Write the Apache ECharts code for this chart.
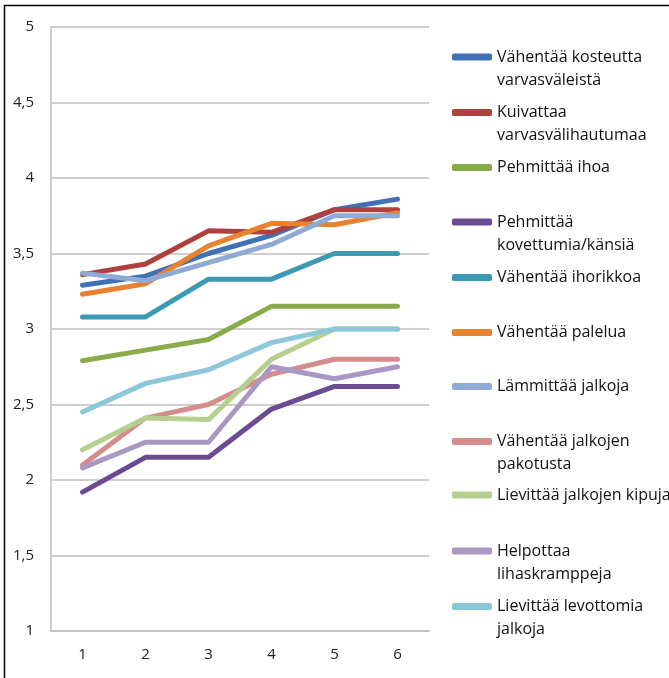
<!DOCTYPE html>
<html>
<head>
<meta charset="utf-8">
<script src="https://cdn.jsdelivr.net/npm/echarts@6/dist/echarts.min.js"></script>
<style>
html,body{margin:0;padding:0;background:#fff;}
#chart{width:669px;height:678px;}
</style>
</head>
<body>
<div id="chart"></div>
<script>
var categories = ['1', '2', '3', '4', '5', '6'];
var seriesNames = [
  'Vähentää kosteutta varvasväleistä',
  'Kuivattaa varvasvälihautumaa',
  'Pehmittää ihoa',
  'Pehmittää kovettumia/känsiä',
  'Vähentää ihorikkoa',
  'Vähentää palelua',
  'Lämmittää jalkoja',
  'Vähentää jalkojen pakotusta',
  'Lievittää jalkojen kipuja',
  'Helpottaa lihaskramppeja',
  'Lievittää levottomia jalkoja'
];
var legendLabels = [
  'Vähentää kosteutta\nvarvasväleistä',
  'Kuivattaa\nvarvasvälihautumaa',
  'Pehmittää ihoa',
  'Pehmittää\nkovettumia/känsiä',
  'Vähentää ihorikkoa',
  'Vähentää palelua',
  'Lämmittää jalkoja',
  'Vähentää jalkojen\npakotusta',
  'Lievittää jalkojen kipuja',
  'Helpottaa\nlihaskramppeja',
  'Lievittää levottomia\njalkoja'
];
var vKosteus = [3.29, 3.35, 3.50, 3.62, 3.79, 3.86];
var vKuivattaa = [3.36, 3.43, 3.65, 3.64, 3.79, 3.79];
var vIhoa = [2.79, 2.86, 2.93, 3.15, 3.15, 3.15];
var vKovettumia = [1.92, 2.15, 2.15, 2.47, 2.62, 2.62];
var vIhorikkoa = [3.08, 3.08, 3.33, 3.33, 3.50, 3.50];
var vPalelua = [3.23, 3.30, 3.55, 3.70, 3.69, 3.77];
var vLammittaa = [3.37, 3.32, 3.44, 3.56, 3.75, 3.75];
var vPakotusta = [2.10, 2.41, 2.50, 2.70, 2.80, 2.80];
var vKipuja = [2.20, 2.41, 2.40, 2.80, 3.00, 3.00];
var vKramppeja = [2.08, 2.25, 2.25, 2.75, 2.67, 2.75];
var vLevottomia = [2.45, 2.64, 2.73, 2.91, 3.00, 3.00];
var yTicks = [1, 1.5, 2, 2.5, 3, 3.5, 4, 4.5, 5];

var allValues = [vKosteus, vKuivattaa, vIhoa, vKovettumia, vIhorikkoa, vPalelua,
  vLammittaa, vPakotusta, vKipuja, vKramppeja, vLevottomia];
var colors = ['#4070B5', '#B0403D', '#8AAB4B', '#6B4C92', '#3C9BB3', '#E8822F',
  '#8FAAD5', '#D48D8C', '#B5CF90', '#A898C2', '#8CC8DA'];
var legendCenters = [57, 112.5, 167.5, 222, 277.5, 332.5, 386.5, 441.5, 495, 551, 606.5];
var LH = 23;
var FONT = 'Open Sans';

var series = seriesNames.map(function (n, i) {
  return {
    name: n, type: 'line', data: allValues[i], showSymbol: false, symbol: 'none',
    lineStyle: { width: 5, color: colors[i], cap: 'round', join: 'round' },
    itemStyle: { color: colors[i] }, animation: false
  };
});

var legends = seriesNames.map(function (n, i) {
  var twoLine = legendLabels[i].indexOf('\n') >= 0;
  var top = twoLine ? legendCenters[i] - 1.5 * LH : legendCenters[i] - 0.5 * LH;
  return {
    data: [{ name: n, icon: 'roundRect' }],
    orient: 'vertical', left: 452, top: top, padding: 0,
    itemWidth: 40, itemHeight: 7, selectedMode: false,
    formatter: function () { return twoLine ? '\n' + legendLabels[i] : legendLabels[i]; },
    textStyle: {
      fontFamily: FONT, fontSize: 16, color: '#111', lineHeight: LH
    }
  };
});

var chart = echarts.init(document.getElementById('chart'), null, { renderer: 'canvas' });
chart.setOption({
  backgroundColor: '#fff',
  animation: false,
  color: colors,
  grid: { left: 51, right: 240, top: 27, bottom: 47, containLabel: false },
  xAxis: {
    type: 'category', data: categories, boundaryGap: true,
    axisLine: { lineStyle: { color: '#BFBFBF', width: 1.5 } },
    axisTick: { show: false },
    axisLabel: { fontFamily: FONT, fontSize: 15, color: '#222', margin: 16 }
  },
  yAxis: {
    type: 'value', min: yTicks[0], max: yTicks[yTicks.length - 1], interval: yTicks[1] - yTicks[0],
    axisLine: { show: true, lineStyle: { color: '#BFBFBF', width: 1.5 } },
    axisTick: { show: false },
    splitLine: { lineStyle: { color: '#BFBFBF', width: 1.5 } },
    axisLabel: {
      fontFamily: FONT, fontSize: 15, color: '#222', margin: 17,
      formatter: function (v) { return String(v).replace('.', ','); }
    }
  },
  legend: legends,
  series: series,
  graphic: [{
    type: 'rect', silent: true, z: 100,
    shape: { x: 4.5, y: 5.5, width: 700, height: 700 },
    style: { fill: 'none', stroke: '#000', lineWidth: 1.5 }
  }]
});
</script>
</body>
</html>
